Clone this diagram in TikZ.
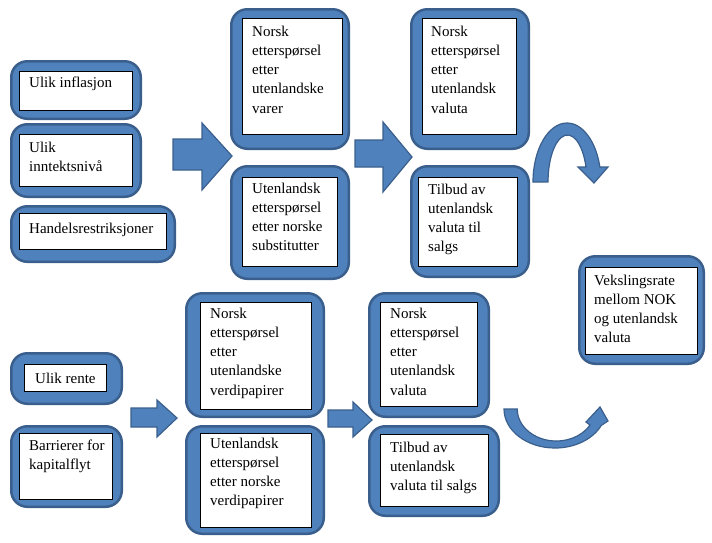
\documentclass[tikz,border=0pt]{standalone}
\usepackage{fontspec}
\setmainfont{Liberation Serif}
\usepackage{tikz}
\usetikzlibrary{positioning}

\definecolor{boxblue}{HTML}{4F81BD}
\definecolor{boxedge}{HTML}{3A5F8C}

\begin{document}
\begin{tikzpicture}[
                x=1pt,y=-1pt,
                outerbox/.style={rectangle,rounded corners=16pt,draw=boxedge,fill=boxblue,line width=2.5pt,inner sep=0pt},
                innerbox/.style={rectangle,draw=black,fill=white,line width=0.8pt,inner sep=0pt},
                boxtext/.style={anchor=base west,inner sep=0pt,align=left,font=\fontsize{15}{19.3}\selectfont},
                blockarrow/.style={fill=boxblue,draw=boxedge,line width=1.2pt,line join=miter}
            ]
                \useasboundingbox (0,0) rectangle (712,542);
                % left causes, goods (text placed at the baseline of its last line)
                \node[outerbox,minimum width=129.5,minimum height=57.5] (infl) at (76,90) {};
                \node[innerbox,minimum width=113,minimum height=39] (infl-in) at (76,91) {};
                \node[boxtext] (infl-t) at (29,87) {Ulik inflasjon};
                \node[outerbox,minimum width=129.5,minimum height=72.5] (innt) at (76,160.5) {};
                \node[innerbox,minimum width=113,minimum height=52] (innt-in) at (76,160.5) {};
                \node[boxtext] (innt-t) at (29,171.3) {Ulik\\inntektsnivå};
                \node[outerbox,minimum width=163.5,minimum height=55.5] (handel) at (93,234) {};
                \node[innerbox,minimum width=147,minimum height=36] (handel-in) at (93,231.5) {};
                \node[boxtext] (handel-t) at (29,233) {Handelsrestriksjoner};
                % demand for goods
                \node[outerbox,minimum width=117.5,minimum height=139.5] (nvarer) at (290,79) {};
                \node[innerbox,minimum width=100,minimum height=116] (nvarer-in) at (292.5,76.5) {};
                \node[boxtext] (nvarer-t) at (252,113.2) {Norsk\\etterspørsel\\etter\\utenlandske\\varer};
                \node[outerbox,minimum width=117.5,minimum height=112.5] (usubst) at (290,222.5) {};
                \node[innerbox,minimum width=95,minimum height=89] (usubst-in) at (290,222) {};
                \node[boxtext] (usubst-t) at (252,250.9) {Utenlandsk\\etterspørsel\\etter norske\\substitutter};
                % currency, goods
                \node[outerbox,minimum width=117.5,minimum height=139.5] (nval) at (470,79) {};
                \node[innerbox,minimum width=94,minimum height=116] (nval-in) at (469.5,76.5) {};
                \node[boxtext] (nval-t) at (431,113.2) {Norsk\\etterspørsel\\etter\\utenlandsk\\valuta};
                \node[outerbox,minimum width=117.5,minimum height=110.5] (tilb) at (470,221.5) {};
                \node[innerbox,minimum width=99,minimum height=89] (tilb-in) at (468,222) {};
                \node[boxtext] (tilb-t) at (428,251.9) {Tilbud av\\utenlandsk\\valuta til\\salgs};
                % exchange rate
                \node[outerbox,minimum width=124.5,minimum height=107.5] (veksl) at (641.5,310) {};
                \node[innerbox,minimum width=112,minimum height=87] (veksl-in) at (641.5,311) {};
                \node[boxtext] (veksl-t) at (594,342.9) {Vekslingsrate\\mellom NOK\\og utenlandsk\\valuta};
                % left causes, capital
                \node[outerbox,minimum width=110.5,minimum height=50.5] (rente) at (66.5,378.5) {};
                \node[innerbox,minimum width=82,minimum height=27] (rente-in) at (65.5,378) {};
                \node[boxtext] (rente-t) at (35,383) {Ulik rente};
                \node[outerbox,minimum width=110.5,minimum height=80.5] (barr) at (66.5,466.5) {};
                \node[innerbox,minimum width=93,minimum height=66] (barr-in) at (66,466.5) {};
                \node[boxtext] (barr-t) at (29,469.3) {Barrierer for\\kapitalflyt};
                % demand for securities
                \node[outerbox,minimum width=137.5,minimum height=123.5] (npap) at (255,355) {};
                \node[innerbox,minimum width=111,minimum height=107] (npap-in) at (256,356) {};
                \node[boxtext] (npap-t) at (210,395.2) {Norsk\\etterspørsel\\etter\\utenlandske\\verdipapirer};
                \node[outerbox,minimum width=137.5,minimum height=107.5] (upap) at (255,480) {};
                \node[innerbox,minimum width=111,minimum height=94] (upap-in) at (256,480.5) {};
                \node[boxtext] (upap-t) at (210,505.9) {Utenlandsk\\etterspørsel\\etter norske\\verdipapirer};
                % currency, capital
                \node[outerbox,minimum width=119.5,minimum height=123.5] (nvalk) at (429,355) {};
                \node[innerbox,minimum width=97,minimum height=104] (nvalk-in) at (429,354.5) {};
                \node[boxtext] (nvalk-t) at (390,395.2) {Norsk\\etterspørsel\\etter\\utenlandsk\\valuta};
                \node[outerbox,minimum width=129.5,minimum height=89.5] (tilbk) at (434,471) {};
                \node[innerbox,minimum width=108,minimum height=72] (tilbk-in) at (434.5,470.5) {};
                \node[boxtext] (tilbk-t) at (390,490.6) {Tilbud av\\utenlandsk\\valuta til salgs};
                % block arrows
                \draw[blockarrow] (173,139) -- (202,139) -- (202,123) -- (232,156) -- (202,190) -- (202,170) -- (173,170) -- cycle;
                \draw[blockarrow] (355,140) -- (383,140) -- (383,122) -- (412,157) -- (383,192) -- (383,167) -- (355,167) -- cycle;
                \draw[blockarrow] (131,408) -- (157,408) -- (157,400) -- (177,418) -- (157,437) -- (157,427) -- (131,427) -- cycle;
                \draw[blockarrow] (328,410) -- (353,410) -- (353,402) -- (372,420) -- (353,437) -- (353,427) -- (328,427) -- cycle;
                % curved arrows
                \draw[blockarrow] (533,182) arc[start angle=180,end angle=345.3,x radius=34,y radius=59]
                    -- (608,167) -- (594,183) -- (578,167) -- (586,167)
                    arc[start angle=341.4,end angle=180,x radius=19.5,y radius=47] -- cycle;
                \draw[blockarrow] (504,409) arc[start angle=180,end angle=25,x radius=51,y radius=39]
                    -- (608,421) -- (600,407) -- (586,422) -- (590,425)
                    arc[start angle=30,end angle=180,x radius=39,y radius=32] -- cycle;
            \end{tikzpicture}
\end{document}
